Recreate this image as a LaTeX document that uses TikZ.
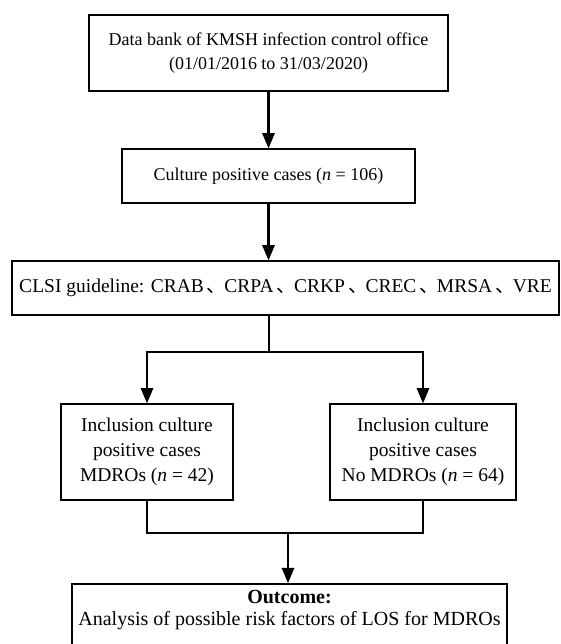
\documentclass[tikz,border=0pt]{standalone}
\usepackage{fontspec}
\setmainfont{Liberation Serif}
\newfontfamily\cjk{Noto Sans CJK SC}
\usetikzlibrary{arrows,calc}
\newcommand{\dun}{{\cjk\hspace{3pt}、\hspace{-2pt}}}

\begin{document}
\begin{tikzpicture}[>=triangle 45, x=1pt, y=-1pt,
	box/.style={draw, line width=1.5pt, align=center, inner sep=0pt, font=\fontsize{18}{24}\selectfont},
	big/.style={font=\fontsize{19.5}{25}\selectfont},
	link/.style={line width=2.6pt}]
		\useasboundingbox (0,0) rectangle (561,644);
		
		\node[box, minimum width=359pt, minimum height=76pt] (bank) at (268.5,53) {Data bank of KMSH infection control office\\(01/01/2016 to 31/03/2020)};
		\node[box, minimum width=293pt, minimum height=54pt] (culture) at (268.5,176) {Culture positive cases (\textit{n} = 106)};
		\node[box, big, minimum width=547pt, minimum height=54pt] (clsi) at (285.5,288) {CLSI guideline: CRAB\dun CRPA\dun CRKP\dun CREC\dun MRSA\dun VRE};
		
		\node[box, big, minimum width=172pt, minimum height=96pt] (mdro) at (147,452) {Inclusion culture\\positive cases\\MDROs (\textit{n} = 42)};
		\node[box, big, minimum width=186pt, minimum height=96pt] (nomdro) at (423,452) {Inclusion culture\\positive cases\\No MDROs (\textit{n} = 64)};
		
		\node[box, minimum width=435pt, minimum height=76pt, anchor=north] (outcome) at (289.5,583) {};
		\node[font=\fontsize{20}{22}\selectfont, align=center, anchor=north, inner sep=0pt] (outtext) at (289.5,590) {\textbf{Outcome:}\\Analysis of possible risk factors of LOS for MDROs};
		
		% split and join points
		\coordinate (split) at (269,352);
		\coordinate (join) at (288,533);
		
		\draw[link,->] (bank.south) -- (culture.north);
		\draw[link,->] (culture.south) -- (culture.south |- clsi.north);
		\draw[link] (split |- clsi.south) -- (split);
		\draw[link,->] (split) -| (mdro.north);
		\draw[link,->] (split) -| (nomdro.north);
		\draw[link] (mdro.south) |- (join);
		\draw[link] (nomdro.south) |- (join);
		\draw[link,->] (join) -- (join |- outcome.north);
\end{tikzpicture}
\end{document}
